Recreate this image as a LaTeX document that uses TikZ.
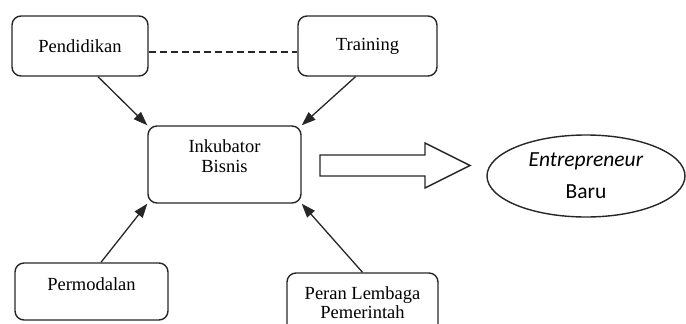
\documentclass[tikz,border=0pt]{standalone}
\usepackage{fontspec}
\setmainfont{Liberation Serif}
\newfontfamily\calib{Carlito}
\usetikzlibrary{shapes.geometric,arrows.meta}

\begin{document}
\begin{tikzpicture}[x=1pt,y=-1pt,
  box/.style={draw=black!85,line width=1.4pt,rounded corners=9pt,font=\fontsize{18.5}{19}\selectfont,align=center},
  link/.style={draw=black!85,line width=1.3pt,-{Triangle[length=14pt,width=10pt]}}]

% Define the picture frame
\useasboundingbox (0,0) rectangle (686,324);
\clip (0,0) rectangle (686,324);

% Draw the boxes round the incubator
\node[box,minimum width=136pt,minimum height=60pt] (pend) at (80,46) {Pendidikan};
\node[box,minimum width=139pt,minimum height=60pt] (train) at (367.5,46) {Training};
\node[box,minimum width=153pt,minimum height=77pt] (inku) at (224.5,164.5) {};
\node[font=\fontsize{18.5}{20}\selectfont,align=center] (inkutext) at ([yshift=8pt]inku.center) {Inkubator\\Bisnis};
\node[box,minimum width=153pt,minimum height=57pt] (modal) at (91.5,291.5) {Permodalan\\[-4pt]};
\node[box,minimum width=151pt,minimum height=60pt] (peran) at (362.5,303) {Peran Lembaga\\Pemerintah};

% Draw the ellipse for the result
\node[draw=black!85,line width=1.4pt,ellipse,minimum width=198pt,minimum height=82pt,
  font=\calib\fontsize{21.5}{32}\selectfont,align=center] (ent) at (586,176) {\textit{Entrepreneur}\\Baru};

% Draw the dashed line and the arrows
\draw[draw=black!85,line width=1.3pt,dash pattern=on 7pt off 4pt] ([yshift=-6pt]pend.east) -- ([yshift=-6pt]train.west);
\draw[link] ([xshift=18pt]pend.south) -- (inku.north west);
\draw[link] ([xshift=-12pt]train.south) -- (inku.north east);
\draw[link] ([xshift=9.5pt]modal.north) -- (inku.south west);
\draw[link] (peran.north) -- (inku.south east);

% Draw the big arrow
\draw[draw=black!85,line width=1.4pt,fill=white] (320,155) -- (425,155) -- (425,143) -- (470,165.5)
  -- (425,188) -- (425,176) -- (320,176) -- cycle;

\end{tikzpicture}
\end{document}
